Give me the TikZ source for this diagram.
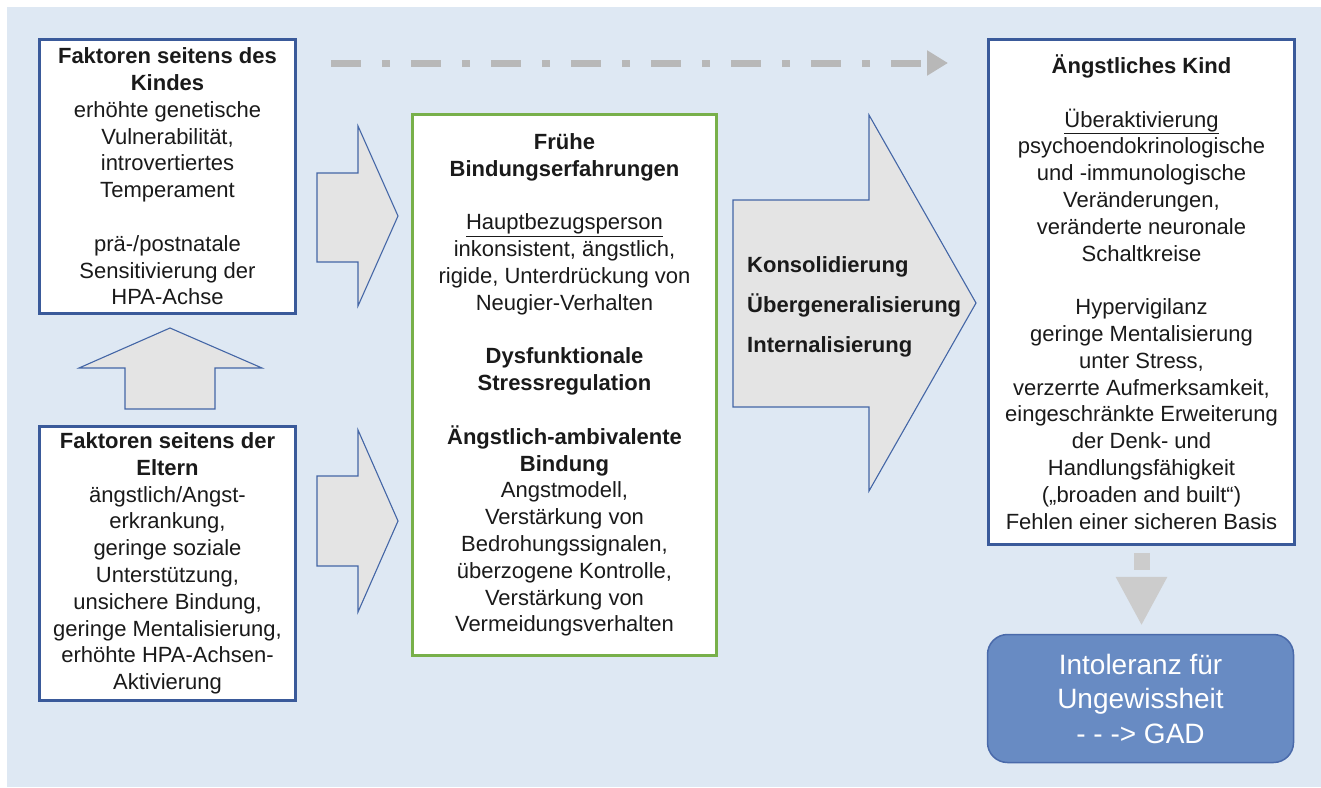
\documentclass[tikz,border=0pt]{standalone}
\usepackage{fontspec}
\setmainfont{Liberation Sans}
\usetikzlibrary{arrows.meta,calc}

\definecolor{bgblue}{RGB}{222,232,243}
\definecolor{boxblue}{RGB}{58,90,154}
\definecolor{boxgreen}{RGB}{120,176,74}
\definecolor{arrowfill}{RGB}{228,228,228}
\definecolor{arrowline}{RGB}{68,102,166}
\definecolor{dashgray}{RGB}{184,184,184}
\definecolor{downgray}{RGB}{204,204,204}
\definecolor{gadfill}{RGB}{104,139,195}
\definecolor{gadline}{RGB}{74,106,170}
\definecolor{textblack}{RGB}{26,26,26}

\begin{document}
\begin{tikzpicture}[x=1pt,y=-1pt]
% Styles
\tikzset{
    textbox/.style={fill=white, line width=3pt, align=center, inner sep=0pt,
        text=textblack, font=\fontsize{22}{26.8}\selectfont},
    factorbox/.style={textbox, draw=boxblue, minimum width=256pt, minimum height=274pt},
    blockarrow/.style={draw=arrowline, fill=arrowfill, line width=1.1pt, line join=miter},
    dashdot arrow/.style={draw=dashgray, line width=7pt,
        dash pattern=on 30pt off 21pt on 8pt off 21pt,
        -{Triangle[length=21pt,width=24pt]}},
    down arrow/.style={draw=downgray, line width=16pt, dash pattern=on 17pt off 30pt,
        -{Triangle[length=49pt,width=48pt]}}
}

% Frame
\useasboundingbox (0,0) rectangle (1321,787);
\fill[bgblue] (7,7) rectangle (1321,787);

% Nodes
\node[factorbox] (kind) at (167.5,176.5)
    {\textbf{Faktoren seitens des}\\\textbf{Kindes}\\erhöhte genetische\\Vulnerabilität,\\
     introvertiertes\\Temperament\\[26.8pt]prä-/postnatale\\Sensitivierung der\\HPA-Achse};
\node[factorbox] (eltern) at (167.5,563.5)
    {\textbf{Faktoren seitens der}\\\textbf{Eltern}\\ängstlich/Angst-\\erkrankung,\\
     geringe soziale\\Unterstützung,\\unsichere Bindung,\\geringe Mentalisierung,\\
     erhöhte HPA-Achsen-\\Aktivierung};
\node[textbox, draw=boxgreen, minimum width=304pt, minimum height=541pt]
    (bindung) at (564.5,385)
    {\textbf{Frühe}\\\textbf{Bindungserfahrungen}\\[26.8pt]\underline{Hauptbezugsperson}\\
     inkonsistent, ängstlich,\\rigide, Unterdrückung von\\Neugier-Verhalten\\[26.8pt]
     \textbf{Dysfunktionale}\\\textbf{Stressregulation}\\[26.8pt]
     \textbf{Ängstlich-ambivalente}\\\textbf{Bindung}\\Angstmodell,\\Verstärkung von\\
     Bedrohungssignalen,\\überzogene Kontrolle,\\Verstärkung von\\Vermeidungsverhalten};
\node[textbox, draw=boxblue, minimum width=306pt, minimum height=505pt]
    (angst) at (1141.5,292)
    {\textbf{Ängstliches Kind}\\[26.8pt]\underline{Überaktivierung}\\psychoendokrinologische\\
     und -immunologische\\Veränderungen,\\veränderte neuronale\\Schaltkreise\\[26.8pt]
     Hypervigilanz\\geringe Mentalisierung\\unter Stress,\\verzerrte Aufmerksamkeit,\\
     eingeschränkte Erweiterung\\der Denk- und\\Handlungsfähigkeit\\(„broaden and built“)\\
     Fehlen einer sicheren Basis};
\node[draw=gadline, fill=gadfill, line width=1.5pt, rounded corners=20pt,
    minimum width=306pt, minimum height=128pt, align=center, text=white,
    font=\fontsize{28}{34.5}\selectfont]
    (gad) at (1140.5,698.5) {Intoleranz für\\Ungewissheit\\- - -> GAD};

% Block arrows
\draw[blockarrow] (125,409) -- (125,368) -- (79,368) -- (170,328)
    -- (262,368) -- (215,368) -- (215,409) -- cycle;
\draw[blockarrow] (317,173) -- (358,173) -- (358,126) -- (398,216)
    -- (358,306) -- (358,262) -- (317,262) -- cycle;
\draw[blockarrow] (317,476) -- (358,476) -- (358,430) -- (398,521)
    -- (358,612) -- (358,566) -- (317,566) -- cycle;
\draw[blockarrow] (733,200) -- (869,200) -- (869,115) -- (976,303)
    -- (869,491) -- (869,407) -- (733,407) -- cycle;
\node[anchor=west, align=left, inner sep=0pt, text=textblack,
    font=\bfseries\fontsize{22}{40}\selectfont]
    (prozess) at (747,307) {Konsolidierung\\Übergeneralisierung\\Internalisierung};

% Connections
\draw[dashdot arrow] ($(kind.north east)+(34,25)$) -- ($(angst.north west)+(-39,25)$);
\draw[down arrow, shorten <=7pt, shorten >=8pt] (angst.south) -- (angst.south |- gad.north);
\end{tikzpicture}
\end{document}
